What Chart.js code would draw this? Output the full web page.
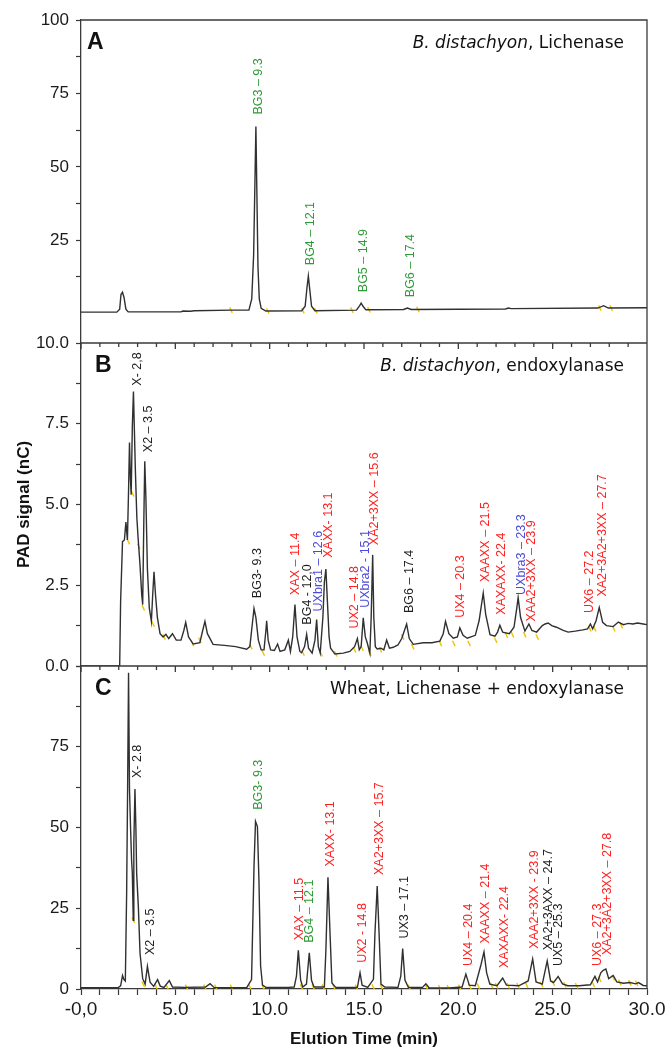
<!DOCTYPE html>
<html>
<head>
<meta charset="utf-8">
<script src="https://cdn.jsdelivr.net/npm/chart.js@4.4.1/dist/chart.umd.min.js"></script>
<style>
  html, body { margin: 0; padding: 0; background: #fff; }
  #chart { display: block; }
</style>
</head>
<body>
<canvas id="chart" width="671" height="1050"></canvas>
<script>
// panel A: B. distachyon, lichenase
const aTime = [0, 1.9, 2.05, 2.12, 2.2, 2.28, 2.38, 2.5, 4.0, 5.3, 5.4, 5.8, 6.0, 8.0, 8.9, 9.05, 9.15, 9.22, 9.27, 9.32, 9.38, 9.45, 9.55, 9.8, 11.7, 11.88, 11.98, 12.05, 12.12, 12.22, 12.4, 14.6, 14.78, 14.85, 14.95, 15.1, 17.1, 17.3, 17.5, 22.5, 22.65, 22.8, 27.4, 27.7, 27.95, 30];
const aSignal = [0.5, 0.5, 1.5, 6.5, 7.3, 5.5, 1.5, 0.6, 0.6, 0.6, 0.9, 0.8, 1.0, 1.2, 1.2, 5, 20, 45, 63.7, 42, 16, 5, 1.8, 0.9, 1.0, 2.5, 9, 12.8, 8.5, 2.5, 1.0, 1.2, 2.8, 3.6, 2.5, 1.3, 1.4, 1.9, 1.4, 1.6, 1.9, 1.7, 1.9, 2.7, 1.9, 2.0];

// panel B: B. distachyon, endoxylanase
const bTime = [0, 2.05, 2.1, 2.2, 2.3, 2.38, 2.46, 2.52, 2.57, 2.62, 2.66, 2.72, 2.78, 2.83, 2.88, 2.96, 3.03, 3.12, 3.22, 3.27, 3.33, 3.38, 3.44, 3.52, 3.62, 3.73, 3.8, 3.87, 3.95, 4.05, 4.19, 4.35, 4.5, 4.65, 4.85, 5.05, 5.3, 5.45, 5.55, 5.7, 5.95, 6.3, 6.45, 6.57, 6.7, 7.0, 7.6, 8.2, 8.78, 8.95, 9.08, 9.17, 9.27, 9.4, 9.55, 9.7, 9.8, 9.84, 9.92, 10.05, 10.25, 10.42, 10.55, 10.8, 10.99, 11.1, 11.22, 11.34, 11.45, 11.6, 11.69, 11.85, 11.96, 12.06, 12.25, 12.4, 12.49, 12.58, 12.68, 12.82, 12.9, 12.98, 13.06, 13.15, 13.23, 13.46, 13.9, 14.25, 14.5, 14.65, 14.75, 14.85, 14.96, 15.07, 15.17, 15.31, 15.38, 15.46, 15.52, 15.6, 15.7, 15.9, 16.05, 16.2, 16.35, 16.55, 16.8, 17.0, 17.26, 17.4, 17.61, 18.14, 18.6, 19.02, 19.2, 19.32, 19.5, 19.73, 19.95, 20.08, 20.25, 20.47, 20.9, 21.1, 21.32, 21.45, 21.68, 21.94, 22.08, 22.2, 22.35, 22.7, 22.95, 23.1, 23.17, 23.3, 23.53, 23.74, 23.9, 24.15, 24.45, 24.6, 24.76, 24.95, 25.2, 25.56, 25.82, 26.2, 26.6, 26.85, 27.0, 27.12, 27.3, 27.47, 27.65, 27.85, 28.21, 28.48, 28.75, 29.0, 29.25, 29.5, 29.8, 30];
const bSignal = [0, 0, 2.0, 3.85, 3.9, 4.46, 3.9, 5.4, 6.92, 5.8, 5.3, 7.4, 8.5, 7.3, 6.1, 4.6, 3.93, 3.2, 2.2, 1.9, 4.5, 6.34, 5.2, 3.0, 1.8, 1.38, 2.2, 2.92, 2.2, 1.5, 1.0, 0.9, 0.98, 0.85, 1.0, 0.8, 0.8, 1.1, 1.35, 0.9, 0.68, 0.72, 1.1, 1.38, 1.0, 0.67, 0.64, 0.6, 0.52, 0.6, 1.3, 1.78, 1.5, 0.8, 0.5, 0.5, 1.1, 1.4, 0.8, 0.5, 0.48, 0.68, 0.45, 0.5, 0.8, 0.45, 0.9, 1.9, 0.9, 0.45, 0.41, 0.6, 0.98, 0.55, 0.4, 0.8, 1.44, 0.6, 0.4, 1.5, 2.6, 3.0, 2.0, 0.9, 0.55, 0.37, 0.4, 0.45, 0.6, 0.85, 0.5, 0.6, 1.49, 0.9, 0.72, 0.4, 1.5, 3.44, 1.5, 0.6, 0.53, 0.55, 0.5, 0.8, 0.55, 0.58, 0.65, 0.85, 1.3, 0.85, 0.67, 0.72, 0.72, 0.77, 1.0, 1.38, 1.0, 0.86, 0.9, 1.18, 0.95, 0.86, 0.95, 1.4, 2.26, 1.6, 0.97, 0.92, 1.05, 1.26, 1.05, 1.0, 1.2, 1.8, 2.12, 1.5, 1.08, 1.3, 1.1, 1.05, 1.25, 1.3, 1.33, 1.25, 1.2, 1.1, 1.05, 1.08, 1.12, 1.15, 1.3, 1.15, 1.4, 1.81, 1.35, 1.25, 1.22, 1.36, 1.28, 1.32, 1.3, 1.33, 1.3, 1.28];

// panel C: wheat, lichenase + endoxylanase
const cTime = [0, 1.95, 2.1, 2.2, 2.27, 2.35, 2.42, 2.47, 2.52, 2.57, 2.63, 2.68, 2.72, 2.77, 2.8, 2.86, 2.91, 2.95, 3.04, 3.13, 3.27, 3.4, 3.52, 3.66, 3.85, 4.06, 4.2, 4.4, 4.68, 4.85, 5.5, 6.6, 6.84, 7.05, 8.0, 8.78, 9.04, 9.17, 9.25, 9.35, 9.43, 9.52, 9.62, 9.8, 11.0, 11.3, 11.42, 11.52, 11.64, 11.75, 11.95, 12.1, 12.22, 12.35, 12.9, 12.98, 13.09, 13.2, 13.3, 13.5, 14.65, 14.79, 14.9, 15.2, 15.5, 15.58, 15.7, 15.8, 15.9, 16.1, 16.8, 16.95, 17.05, 17.17, 17.35, 18.1, 18.28, 18.45, 19.5, 20.2, 20.4, 20.58, 20.9, 21.2, 21.36, 21.5, 21.67, 22.05, 22.35, 22.55, 23.2, 23.7, 23.94, 24.12, 24.45, 24.71, 24.89, 25.05, 25.29, 25.52, 25.8, 26.4, 27.0, 27.24, 27.38, 27.55, 27.68, 27.82, 27.97, 28.21, 28.4, 28.75, 29.1, 29.4, 29.55, 29.8, 30];
const cSignal = [0.4, 0.4, 1.0, 4.2, 3.0, 2.5, 30, 61.7, 97.9, 62, 49.3, 40, 36, 21.3, 45, 61.9, 49.7, 35.8, 25.5, 11, 3.2, 1.5, 7.0, 2.1, 0.8, 2.9, 0.9, 0.5, 2.6, 0.6, 0.5, 0.6, 1.66, 0.5, 0.4, 0.4, 2.9, 37.9, 51.9, 50.3, 34.1, 7.1, 1.2, 0.5, 0.5, 0.6, 4, 12.0, 2.8, 0.6, 1.5, 11.2, 2.6, 0.6, 0.6, 12, 34.6, 17.2, 1.9, 0.5, 0.5, 5.0, 1.2, 0.5, 3, 17.2, 31.9, 17.2, 1.5, 0.6, 0.5, 4, 12.5, 2.8, 0.5, 0.5, 1.6, 0.4, 0.3, 0.6, 4.6, 1.2, 1.0, 7.5, 11.5, 5, 1.5, 1.0, 3.4, 1.2, 1.0, 2.5, 9.3, 2.2, 1.5, 8.7, 2.5, 2.0, 3.9, 1.6, 1.0, 1.0, 1.3, 3.9, 2.2, 5.0, 5.8, 6.2, 3.2, 4.2, 2.2, 1.8, 2.0, 1.6, 2.0, 1.1, 1.0];

// yellow integration marks
const aMarkTime = [7.95, 9.9, 11.76, 12.45, 14.36, 15.26, 17.86, 27.5, 28.1];
const aMarkSignal = [1.2, 0.9, 1.0, 1.0, 1.2, 1.3, 1.4, 1.9, 1.9];
const bMarkTime = [2.51, 2.74, 3.06, 3.3, 3.82, 4.4, 5.9, 6.3, 9.0, 9.66, 11.77, 12.73, 13.5, 14.5, 14.9, 15.31, 15.87, 17.05, 17.58, 19.05, 19.76, 20.57, 21.98, 22.55, 22.87, 23.52, 24.18, 26.97, 27.23, 28.24, 28.64];
const bMarkSignal = [3.85, 5.33, 3.7, 1.8, 1.3, 0.9, 0.7, 0.8, 0.6, 0.4, 0.4, 0.38, 0.38, 0.5, 0.55, 0.4, 0.5, 0.9, 0.6, 0.7, 0.7, 0.7, 0.8, 0.95, 0.97, 0.97, 0.9, 1.15, 1.15, 1.15, 1.25];
const cMarkTime = [2.77, 3.3, 3.97, 4.57, 5.6, 6.57, 7.15, 7.98, 8.96, 9.66, 11.69, 12.31, 12.84, 13.41, 14.61, 15.49, 15.93, 17.4, 18.32, 19.02, 19.47, 20.08, 20.61, 21.06, 21.76, 22.03, 22.65, 23.17, 23.62, 24.41, 25.03, 25.65, 26.27, 27.15, 27.5, 28.21, 28.56, 29.09, 29.45];
const cMarkSignal = [21.3, 1.5, 0.8, 0.6, 0.5, 0.5, 0.5, 0.5, 0.5, 0.5, 0.6, 0.6, 0.6, 0.5, 0.5, 0.6, 0.6, 0.5, 0.5, 0.4, 0.4, 0.5, 0.8, 0.9, 1.1, 1.0, 1.0, 1.0, 1.2, 1.4, 1.8, 1.3, 1.0, 1.5, 3, 3.5, 2, 1.9, 1.8];

// peak labels: text, time (x), signal at the start of the text, colour key
const aLabelText = ['BG3 – 9.3', 'BG4 – 12.1', 'BG5 – 14.9', 'BG6 – 17.4'];
const aLabelTime = [9.4, 12.15, 14.95, 17.45];
const aLabelBase = [67.8, 16.5, 7.3, 5.6];
const aLabelColor = ['g', 'g', 'g', 'g'];

const bLabelText = ['X- 2,8', 'X2 – 3.5', 'BG3- 9.3', 'XAX – 11.4', 'BG4 - 12,0', 'UXbra1 – 12.6', 'XAXX- 13.1', 'UX2 – 14.8', 'UXbra2 - 15.1', 'XA2+3XX – 15.6', 'BG6 – 17.4', 'UX4 – 20.3', 'XAAXX – 21.5', 'XAXAXX- 22.4', 'UXbra3 – 23.3', 'XAA2+3XX – 23.9', 'UX6 – 27.2', 'XA2+3A2+3XX – 27.7'];
const bLabelTime = [2.99, 3.57, 9.35, 11.39, 12.0, 12.58, 13.1, 14.52, 15.1, 15.58, 17.4, 20.14, 21.46, 22.29, 23.35, 23.88, 26.97, 27.64];
const bLabelBase = [8.68, 6.62, 2.1, 2.2, 1.28, 1.69, 3.35, 1.16, 1.8, 3.74, 1.64, 1.49, 2.6, 1.59, 2.2, 1.38, 1.64, 2.15];
const bLabelColor = ['k', 'k', 'k', 'r', 'k', 'b', 'r', 'r', 'b', 'r', 'k', 'r', 'r', 'r', 'b', 'r', 'r', 'r'];

const cLabelText = ['X- 2.8', 'X2 – 3.5', 'BG3- 9.3', 'XAX – 11.5', 'BG4 – 12.1', 'XAXX- 13.1', 'UX2 - 14.8', 'XA2+3XX – 15.7', 'UX3 – 17.1', 'UX4 – 20.4', 'XAAXX – 21.4', 'XAXAXX- 22.4', 'XAA2+3XX - 23.9', 'XA2+3AXX – 24.7', 'UX5 – 25.3', 'UX6 – 27.3', 'XA2+3A2+3XX – 27.8'];
const cLabelTime = [2.99, 3.66, 9.4, 11.6, 12.14, 13.23, 14.93, 15.85, 17.17, 20.53, 21.46, 22.47, 24.06, 24.77, 25.3, 27.36, 27.89];
const cLabelBase = [65.3, 10.5, 55.5, 15.1, 14.3, 37.9, 8.1, 35.3, 15.6, 7.1, 14.1, 6.5, 12.5, 12.0, 7.1, 7.1, 10.5];
const cLabelColor = ['k', 'k', 'g', 'r', 'g', 'r', 'r', 'r', 'k', 'r', 'r', 'r', 'r', 'k', 'k', 'r', 'r'];

// axes
const xTickValues = [0, 1, 2, 3, 4, 5, 6, 7, 8, 9, 10, 11, 12, 13, 14, 15, 16, 17, 18, 19, 20, 21, 22, 23, 24, 25, 26, 27, 28, 29, 30];
const xTickLabels = { 0: '-0,0', 5: '5.0', 10: '10.0', 15: '15.0', 20: '20.0', 25: '25.0', 30: '30.0' };
const aTickValues = [100, 87.5, 75, 62.5, 50, 37.5, 25, 12.5];
const aTickLabels = ['100', '', '75', '', '50', '', '25', ''];
const bTickValues = [10, 8.75, 7.5, 6.25, 5, 3.75, 2.5, 1.25, 0];
const bTickLabels = ['10.0', '', '7.5', '', '5.0', '', '2.5', '', '0.0'];
const cTickValues = [100, 87.5, 75, 62.5, 50, 37.5, 25, 12.5, 0];
const cTickLabels = ['', '', '75', '', '50', '', '25', '', '0'];

const panelLetters = ['A', 'B', 'C'];
const panelItalic = ['B. distachyon', 'B. distachyon', ''];
const panelRest = [', Lichenase', ', endoxylanase', 'Wheat, Lichenase + endoxylanase'];

const palette = { g: '#2f9a38', k: '#1e1e1e', r: '#ff1f1f', b: '#4a4ad8' };
const axisColor = '#3a3a3a';
const traceColor = '#303030';
const markColor = '#f2c300';

Chart.defaults.font.family = '"Liberation Sans", Arial, sans-serif';
Chart.defaults.color = '#1a1a1a';

function points(times, values) {
  return times.map((t, i) => ({ x: t, y: values[i] }));
}

function trace(times, values, axis) {
  return {
    data: points(times, values),
    yAxisID: axis,
    borderColor: traceColor,
    borderWidth: 1.4,
    pointRadius: 0,
    tension: 0,
    fill: false
  };
}

function marks(times, values, axis) {
  return {
    data: points(times, values),
    yAxisID: axis,
    showLine: false,
    pointStyle: 'line',
    pointRotation: 65,
    pointRadius: 3,
    pointBorderColor: markColor,
    pointBorderWidth: 1.4,
    borderColor: markColor
  };
}

function yAxis(min, max, values, labels, weight, title) {
  return {
    type: 'linear',
    position: 'left',
    stack: 'panels',
    stackWeight: 1,
    weight: weight,
    min: min,
    max: max,
    afterBuildTicks: s => { s.ticks = values.map(v => ({ value: v })); },
    afterFit: s => { s.width = 81; },
    ticks: {
      autoSkip: false,
      padding: 7,
      font: { size: 17 },
      color: '#1a1a1a',
      callback: v => labels[values.indexOf(v)]
    },
    grid: { drawOnChartArea: false, tickLength: 5, tickColor: axisColor, tickWidth: 1.2 },
    border: { display: true, color: axisColor, width: 1.3 },
    title: title ? {
      display: true,
      text: title,
      font: { size: 17, weight: 'bold' },
      color: '#111',
      padding: { top: 14, bottom: 0 }
    } : { display: false }
  };
}

function drawPeakLabels(ctx, xs, ys, texts, times, bases, colors) {
  ctx.font = '12.5px "Liberation Sans", Arial, sans-serif';
  ctx.textAlign = 'left';
  ctx.textBaseline = 'middle';
  texts.forEach((t, i) => {
    ctx.save();
    ctx.translate(xs.getPixelForValue(times[i]), ys.getPixelForValue(bases[i]));
    ctx.rotate(-Math.PI / 2);
    ctx.fillStyle = palette[colors[i]];
    ctx.fillText(t, 0, 0);
    ctx.restore();
  });
}

const decor = {
  id: 'decor',
  afterDatasetsDraw(chart) {
    const { ctx, scales } = chart;
    ctx.save();
    drawPeakLabels(ctx, scales.x, scales.yA, aLabelText, aLabelTime, aLabelBase, aLabelColor);
    drawPeakLabels(ctx, scales.x, scales.yB, bLabelText, bLabelTime, bLabelBase, bLabelColor);
    drawPeakLabels(ctx, scales.x, scales.yC, cLabelText, cLabelTime, cLabelBase, cLabelColor);
    ctx.restore();
  },
  afterDraw(chart) {
    const { ctx, chartArea: area, scales } = chart;
    const x = scales.x;
    ctx.save();
    ctx.strokeStyle = axisColor;
    ctx.lineWidth = 1.3;
    ctx.beginPath();
    ctx.moveTo(area.left, area.top);
    ctx.lineTo(area.right, area.top);
    ctx.lineTo(area.right, area.bottom);
    ['yB', 'yC'].forEach(id => {
      const top = scales[id].top;
      ctx.moveTo(area.left, top);
      ctx.lineTo(area.right, top);
      xTickValues.forEach(v => {
        const px = x.getPixelForValue(v);
        ctx.moveTo(px, top);
        ctx.lineTo(px, top + (v % 5 === 0 ? 6 : 4));
      });
    });
    ctx.stroke();

    // panel letters and titles
    ['yA', 'yB', 'yC'].forEach((id, i) => {
      const top = scales[id].top;
      ctx.fillStyle = '#111';
      ctx.textBaseline = 'alphabetic';
      ctx.textAlign = 'left';
      ctx.font = 'bold 23px "Liberation Sans", Arial, sans-serif';
      ctx.fillText(panelLetters[i], area.left + (i === 0 ? 6 : 14), top + 29);

      const right = area.right - 23;
      const base = top + 28;
      ctx.textAlign = 'right';
      ctx.font = '17px "DejaVu Sans", sans-serif';
      ctx.fillText(panelRest[i], right, base);
      if (panelItalic[i]) {
        const w = ctx.measureText(panelRest[i]).width;
        ctx.font = 'italic 17px "DejaVu Sans", sans-serif';
        ctx.fillText(panelItalic[i], right - w, base);
      }
    });
    ctx.restore();
  }
};

new Chart(document.getElementById('chart'), {
  type: 'line',
  data: {
    datasets: [
      trace(aTime, aSignal, 'yA'),
      trace(bTime, bSignal, 'yB'),
      trace(cTime, cSignal, 'yC'),
      marks(aMarkTime, aMarkSignal, 'yA'),
      marks(bMarkTime, bMarkSignal, 'yB'),
      marks(cMarkTime, cMarkSignal, 'yC')
    ]
  },
  options: {
    responsive: false,
    animation: false,
    devicePixelRatio: 1,
    layout: { padding: { top: 20, right: 24, left: 0, bottom: 0 } },
    plugins: { legend: { display: false }, tooltip: { enabled: false } },
    scales: {
      x: {
        type: 'linear',
        min: 0,
        max: 30,
        afterBuildTicks: s => { s.ticks = xTickValues.map(v => ({ value: v })); },
        afterFit: s => { s.height = 61; },
        ticks: {
          autoSkip: false,
          maxRotation: 0,
          padding: 3,
          font: { size: 19 },
          color: '#1a1a1a',
          callback: v => xTickLabels[v] || ''
        },
        grid: { drawOnChartArea: false, tickLength: 6, tickColor: axisColor, tickWidth: 1.2 },
        border: { display: true, color: axisColor, width: 1.3 },
        title: {
          display: true,
          text: 'Elution Time (min)',
          font: { size: 17, weight: 'bold' },
          color: '#111',
          padding: { top: 0, bottom: 0 }
        }
      },
      yA: yAxis(-10, 100, aTickValues, aTickLabels, 3, ''),
      yB: yAxis(0, 10, bTickValues, bTickLabels, 2, 'PAD signal (nC)'),
      yC: yAxis(0, 100, cTickValues, cTickLabels, 1, '')
    }
  },
  plugins: [decor]
});
</script>
</body>
</html>
